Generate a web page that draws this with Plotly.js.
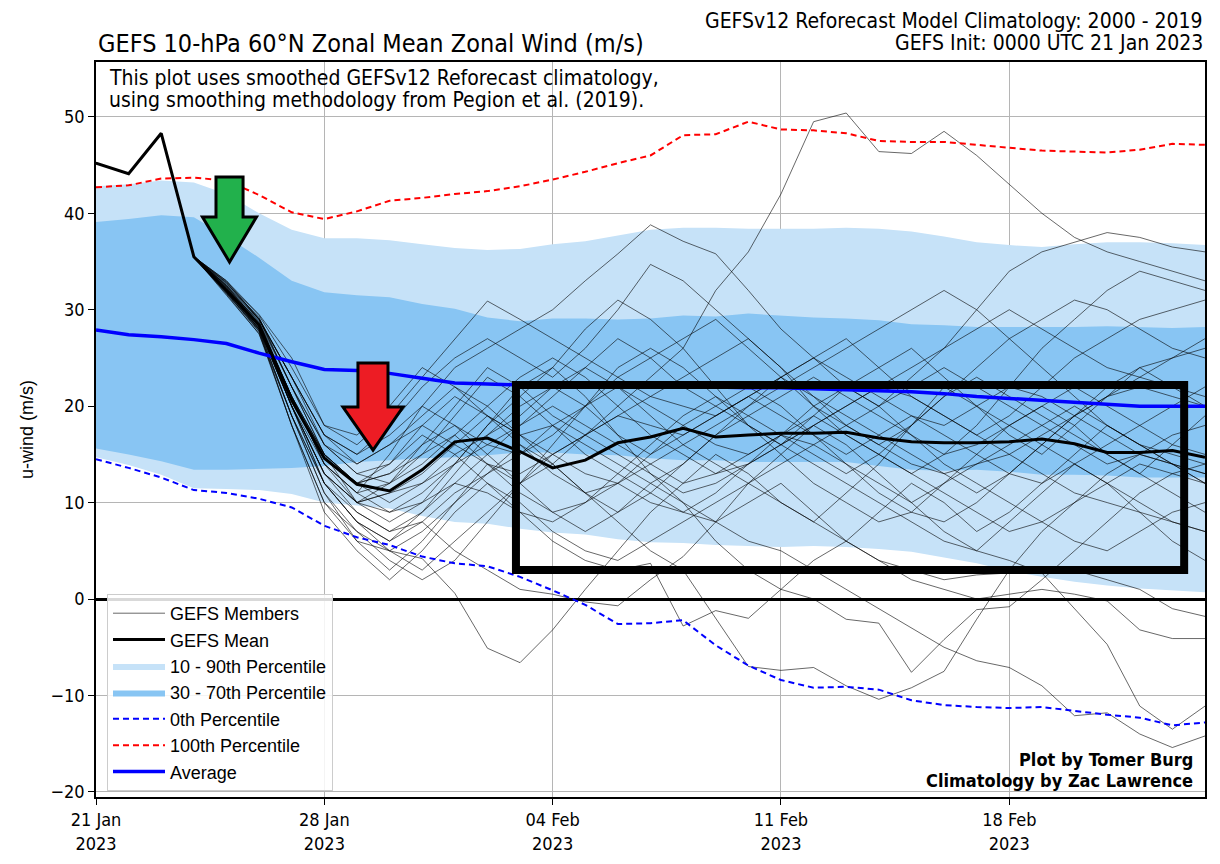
<!DOCTYPE html>
<html>
<head>
<meta charset="utf-8">
<script src="https://cdn.plot.ly/plotly-3.0.1.min.js"></script>
<style>html,body{margin:0;padding:0;background:#fff}#chart{width:1220px;height:864px}</style>
</head>
<body>
<div id="chart"></div>
<script>
// ---------------- DATA ----------------
const initDate = '2023-01-21';
const tickDates = ['2023-01-21', '2023-01-28', '2023-02-04', '2023-02-11', '2023-02-18'];
const tickLabels = ['21 Jan<br>2023', '28 Jan<br>2023', '04 Feb<br>2023', '11 Feb<br>2023', '18 Feb<br>2023'];
const yTicks = [-20, -10, 0, 10, 20, 30, 40, 50];

// climatology (daily, Jan 21 .. Feb 24)
const pct100 = [42.7,42.9,43.6,43.7,43.4,41.9,40.1,39.4,40.2,41.3,41.6,42.0,42.3,42.8,43.5,44.3,45.2,46.0,48.1,48.2,49.5,48.7,48.6,48.3,47.5,47.4,47.4,47.1,46.8,46.5,46.4,46.3,46.6,47.2,47.1];
const pct0   = [14.5,13.6,12.6,11.3,11.0,10.4,9.5,7.6,6.4,5.6,4.4,3.7,3.4,2.3,0.9,-0.6,-2.6,-2.5,-2.2,-4.8,-6.9,-8.4,-9.2,-9.1,-9.4,-10.5,-11.0,-11.2,-11.3,-11.2,-11.6,-12.0,-12.3,-13.1,-12.8];
const pct90  = [42.8,43.0,43.4,43.2,42.0,40.0,38.3,37.4,37.4,37.2,36.8,36.4,36.2,36.3,36.8,37.1,37.7,38.3,38.5,38.5,38.4,38.4,38.4,38.5,38.4,38.1,37.6,37.0,36.7,36.5,36.8,37.0,37.0,36.9,36.7];
const pct10  = [14.7,13.9,12.9,11.5,11.4,11.3,10.9,10.0,9.7,9.4,8.6,8.0,7.8,7.3,6.9,6.7,6.2,5.9,5.8,5.6,5.5,5.4,5.5,5.4,5.2,4.9,4.3,3.7,2.9,2.3,1.8,1.4,1.1,0.9,0.7];
const pct70  = [39.1,39.4,39.8,39.6,37.6,35.4,33.0,31.8,31.5,31.3,30.6,30.1,29.2,28.8,29.1,29.1,29.0,29.1,29.4,29.3,29.6,29.4,29.2,29.1,28.9,28.5,28.4,28.2,28.2,28.2,28.2,28.3,28.2,28.1,28.2];
const pct30  = [15.6,15.0,14.3,13.4,13.4,13.5,13.6,13.8,14.2,14.4,14.6,14.7,14.9,15.2,15.2,15.0,14.9,14.6,14.4,14.4,14.2,14.2,14.2,14.2,13.8,13.4,13.3,13.4,13.2,12.9,12.9,12.8,12.6,12.6,12.6];
const climAvg = [27.9,27.4,27.2,26.9,26.5,25.5,24.6,23.8,23.7,23.4,22.9,22.4,22.3,22.2,22.2,22.2,22.1,22.1,22.0,22.0,21.9,21.9,21.8,21.7,21.6,21.5,21.3,21.0,20.8,20.6,20.4,20.2,20.0,20.0,20.0];

// GEFS ensemble mean
const gefsMean = [45.2,44.1,48.3,35.5,32.0,28.4,20.6,14.6,11.9,11.2,13.4,16.3,16.7,15.3,13.6,14.4,16.2,16.8,17.7,16.8,17.0,17.2,17.2,17.3,16.7,16.3,16.2,16.2,16.3,16.6,16.1,15.2,15.2,15.4,14.7];

// common start of all members (Jan 21 - Jan 24)
const memberStart = [45.2,44.1,48.3,35.5];
// members from Jan 25 .. Feb 24
const m01 = [32.5,28.5,21,15,12,13,16,18,15,12,14,17,20,23,26,32,36,42,49.5,50.4,46.4,46.2,48.5,46,43,40,37.5,36,35,34,33];
const m02 = [32,28,20,14,11,15,20,24,26,28,30,33,35.8,38.8,37.1,35.8,32,28,25,22,20,23,26,30,34,36,37,38,37.5,36.5,36];
const m03 = [31.5,27.5,18,10,7,5,4.2,0.6,-5.1,-6.6,-3.2,1,5,9,12,15,13,10,8,11,14,18,22,20,17,15,18,21,24,22,20];
const m04 = [32,29,22,16,13,14,17,15,12,9,6,4,3,3.7,-2.8,-1.2,-2,1,4,6,9,12,10,7,9,12,15,18,16,14,12];
const m05 = [32,28.5,20,12,8,6,8,5,3,1,0.5,-0.3,-0.7,2,4.4,8,12,15,18,16,13,10,7,5,8,11,14,12,9,6,4];
const m06 = [33,29,23,17,14,16,19,22,20,17,14,11,8,5,3,-2,-7,-7.4,-7.1,-9,-10.4,-9.2,-7.5,-2.1,3,7,10,13,15,14,12];
const m07 = [31.8,27.8,19,11,6,3,6,10,14,12,9,7,9,12,10,6,3,1,0,-2.1,-2.5,-7.6,-4.2,-1.1,-0.8,2,5,8,11,13,14];
const m08 = [32.2,28.8,21,15,10,8,10,14,18,22,24,21,17,13,10,8,6,5,3,1,-1,-3,-5,-6.4,-7.1,-9,-12.1,-11.8,-14,-15.4,-14.2];
const m09 = [32,28,20,13,10,12,15,19,23,21,18,15,13,11,9,8,10,12,9,6,4,3,2,2.5,2.7,2.7,-1,-4.7,-11.1,-13.5,-11.1];
const m10 = [32.8,29,22,15,12,10,12,15,17,19,22,24,22,19,16,14,12,10,8,6,4,2,1,0,0.5,1,0.5,-0.2,-3.2,-4.1,-4.1];
const m11 = [31.7,28,19,12,9,7,9,12,15,18,21,24,27,25,22,20,18,16,14,12,10,8,6,5,4,2.7,3,2,1,-1,-1.8];
const m12 = [33,29.5,25,18,16,19,23,27,30.9,29,27,25,23,21,20,19,21,23,25,27,24,21,19,17,19,22,25,27,29,30,31];
const m13 = [32.5,29,23,17,15,18,22,25,27,25,23,26,30,34.7,33,30,27,24,20,17,15,13,15,18,22,26,29,32,34,33,32];
const m14 = [32,28.5,21,14,10,9,11,14,18,21,24,28,31,29,26,22,18,15,12,10,8,9,12,15,18,20,18,15,13,16,19];
const m15 = [31.6,27.5,19,12,8,5,3,6,9,12,15,17,19,21,23,25,27,24,21,19,17,15,13,11,13,16,19,22,24,25,26];
const m16 = [32.3,28.2,20,13,10,11,13,16,19,17,15,13,12,14,16,18,20,22,24,26,28,30,32,30,27,24,21,18,16,15,14];
const m17 = [32.7,29.2,22,16,13,12,14,17,14,11,9,10,13,16,19,21,19,17,15,13,15,18,21,24,27,29,31,30,28,26,25];
const m18 = [31.9,27.9,19,11,7,4,2,4,8,12,16,20,24,26,24,21,18,16,19,22,20,17,14,12,10,8,6,5,7,9,10];
const m19 = [32.4,28.4,21,15,12,14,18,21,19,16,13,11,12,15,18,20,22,20,17,14,11,9,8,10,13,16,19,21,22,21,20];
const m20 = [32.1,28,20,13,9,7,8,11,13,15,18,16,14,12,14,17,20,23,21,18,16,18,21,23,21,19,17,15,13,11,9];
const m21 = [32.6,29,23,17,15,17,20,18,16,15,17,20,22,20,18,16,15,17,20,22,24,26,23,20,18,16,14,12,10,8,7];
const m22 = [31.8,27.8,18,10,6,5,7,10,13,16,14,11,9,11,14,17,19,21,23,21,19,17,15,16,18,20,22,20,18,16,15];
const m23 = [32.9,29.4,24,18,17,20,24,22,19,17,18,20,23,25,27,29,26,23,20,18,16,14,13,14,15,17,19,21,23,25,27];
const m24 = [32.2,28.5,21,14,11,9,10,12,11,9,8,10,12,10,9,11,14,16,18,20,22,21,19,17,15,13,11,10,9,8,7];
const m25 = [32.5,28.7,22,15,12,13,15,17,20,23,25,23,20,17,15,13,14,16,18,20,22,24,26,28,30,28,26,24,23,22,21];
const m26 = [32,28.1,20,12,8,6,9,13,17,20,22,20,17,15,17,19,21,19,17,15,17,19,17,15,13,12,14,16,18,20,22];
const m27 = [32.4,28.6,21,14,11,12,16,20,24,22,19,17,15,13,11,12,14,17,19,17,15,13,11,9,7,8,10,12,14,13,12];
const m28 = [31.7,27.7,18,9,5,2,5,9,12,10,7,5,4,6,8,10,12,14,16,14,12,10,12,14,16,18,20,18,16,14,13];
const m29 = [32.8,29.1,23,16,14,16,18,16,14,13,15,17,19,18,17,19,21,23,25,23,21,19,18,20,22,21,19,17,15,14,13];
const m30 = [32.3,28.3,20,13,10,11,12,14,16,18,20,18,16,14,12,13,15,17,16,18,20,22,24,22,20,18,16,14,15,17,18];
const members = [m01,m02,m03,m04,m05,m06,m07,m08,m09,m10,m11,m12,m13,m14,m15,m16,m17,m18,m19,m20,m21,m22,m23,m24,m25,m26,m27,m28,m29,m30];

// annotation box (data units)
const boxX = ['2023-02-02 21:00', '2023-02-23 08:40'];
const boxY = [3.0, 22.2];

// ---------------- BUILD ----------------
function dailyDates(n) {
  const out = [];
  const t0 = Date.parse(initDate + 'T00:00:00Z');
  for (let i = 0; i < n; i++) {
    out.push(new Date(t0 + i * 86400000).toISOString().slice(0, 10));
  }
  return out;
}
const x = dailyDates(pct100.length);

const LIGHT = '#c6e2f8';
const DARK = '#88c5f3';
const traces = [];

traces.push({x: x, y: pct10, type: 'scatter', mode: 'lines', line: {width: 0, color: LIGHT}, showlegend: false, hoverinfo: 'skip'});
traces.push({x: x, y: pct90, type: 'scatter', mode: 'lines', line: {width: 0, color: LIGHT}, fill: 'tonexty', fillcolor: LIGHT, name: '10 - 90th Percentile', legendrank: 3});
traces.push({x: x, y: pct30, type: 'scatter', mode: 'lines', line: {width: 0, color: DARK}, showlegend: false, hoverinfo: 'skip'});
traces.push({x: x, y: pct70, type: 'scatter', mode: 'lines', line: {width: 0, color: DARK}, fill: 'tonexty', fillcolor: DARK, name: '30 - 70th Percentile', legendrank: 4});

members.forEach((m, i) => {
  traces.push({x: x, y: memberStart.concat(m), type: 'scatter', mode: 'lines',
    line: {width: 0.7, color: 'rgba(0,0,0,0.85)'}, name: 'GEFS Members',
    showlegend: i === 0, legendrank: 1});
});

traces.push({x: x, y: pct0, type: 'scatter', mode: 'lines', line: {width: 2, color: '#0000ff', dash: '6px,4px'}, name: '0th Percentile', legendrank: 5});
traces.push({x: x, y: pct100, type: 'scatter', mode: 'lines', line: {width: 2, color: '#ff0000', dash: '6px,4px'}, name: '100th Percentile', legendrank: 6});
traces.push({x: x, y: climAvg, type: 'scatter', mode: 'lines', line: {width: 3.5, color: '#0000ff'}, name: 'Average', legendrank: 7});
traces.push({x: x, y: gefsMean, type: 'scatter', mode: 'lines', line: {width: 3, color: '#000000'}, name: 'GEFS Mean', legendrank: 2});

const NARROW = '"DejaVu Sans Condensed", "Liberation Sans Narrow", sans-serif';
const SANS = '"Liberation Sans", Arial, sans-serif';

function px2paperX(p) { return (p - 96) / 1109; }
function px2paperY(p) { return (797 - p) / 735; }
function arrowPath(cx, shaftHalf, headHalf, top, headY, tip) {
  const pts = [[cx - shaftHalf, top], [cx + shaftHalf, top], [cx + shaftHalf, headY], [cx + headHalf, headY], [cx, tip], [cx - headHalf, headY], [cx - shaftHalf, headY]];
  return 'M' + pts.map(p => px2paperX(p[0]).toFixed(4) + ',' + px2paperY(p[1]).toFixed(4)).join(' L') + ' Z';
}
function txt(t, xp, yp, xa, size, bold) {
  return {xref: 'paper', yref: 'paper', x: xp, y: yp, xanchor: xa, yanchor: 'middle', showarrow: false,
    text: bold ? '<b>' + t + '</b>' : t, font: {family: NARROW, size: size}};
}

const layout = {
  width: 1220, height: 864,
  margin: {l: 96, r: 15, t: 62, b: 67},
  paper_bgcolor: '#ffffff', plot_bgcolor: '#ffffff',
  showlegend: true,
  font: {family: SANS, color: '#000'},
  xaxis: {
    type: 'date', range: ['2023-01-21', '2023-02-24'],
    tickmode: 'array', tickvals: tickDates, ticktext: tickLabels,
    tickfont: {family: NARROW, size: 18},
    ticks: 'outside', ticklen: 6, tickwidth: 1.2, tickcolor: '#000',
    showgrid: true, gridcolor: '#b5b5b5', gridwidth: 1,
    showline: true, linecolor: '#000', linewidth: 1.5, mirror: true,
    zeroline: false
  },
  yaxis: {
    range: [-20.53, 55.69],
    tickmode: 'array', tickvals: yTicks,
    tickfont: {family: NARROW, size: 18},
    ticks: 'outside', ticklen: 6, tickwidth: 1.2, tickcolor: '#000',
    showgrid: true, gridcolor: '#b5b5b5', gridwidth: 1,
    showline: true, linecolor: '#000', linewidth: 1.5, mirror: true,
    zeroline: true, zerolinecolor: '#000', zerolinewidth: 2.5,
    title: {text: 'u-wind (m/s)', font: {family: SANS, size: 18}, standoff: 12}
  },
  legend: {
    x: px2paperX(107), y: px2paperY(594), xanchor: 'left', yanchor: 'top',
    bgcolor: 'rgba(255,255,255,0.85)', bordercolor: '#cccccc', borderwidth: 1,
    font: {family: SANS, size: 18}, itemwidth: 52, traceorder: 'normal'
  },
  shapes: [
    {type: 'rect', xref: 'x', yref: 'y', x0: boxX[0], x1: boxX[1], y0: boxY[0], y1: boxY[1],
     line: {color: '#000', width: 8}, fillcolor: 'rgba(0,0,0,0)'},
    {type: 'path', xref: 'paper', yref: 'paper', path: arrowPath(229.5, 13.5, 27, 177, 217, 262),
     fillcolor: '#22b14c', line: {color: '#000', width: 3}},
    {type: 'path', xref: 'paper', yref: 'paper', path: arrowPath(373, 15, 30, 363, 407, 450),
     fillcolor: '#ed1c24', line: {color: '#000', width: 3}}
  ],
  annotations: [
    txt('GEFS 10-hPa 60°N Zonal Mean Zonal Wind (m/s)', 0, px2paperY(43), 'left', 25, false),
    txt('GEFSv12 Reforecast Model Climatology: 2000 - 2019', 1, px2paperY(21), 'right', 21, false),
    txt('GEFS Init: 0000 UTC 21 Jan 2023', 1, px2paperY(43), 'right', 21, false),
    txt('This plot uses smoothed GEFSv12 Reforecast climatology,', px2paperX(107), px2paperY(78), 'left', 21, false),
    txt('using smoothing methodology from Pegion et al. (2019).', px2paperX(107), px2paperY(100), 'left', 21, false),
    txt('Plot by Tomer Burg', px2paperX(1195), px2paperY(759), 'right', 18, true),
    txt('Climatology by Zac Lawrence', px2paperX(1195), px2paperY(780), 'right', 18, true)
  ]
};

Plotly.newPlot('chart', traces, layout, {displayModeBar: false, responsive: false});
</script>
</body>
</html>
